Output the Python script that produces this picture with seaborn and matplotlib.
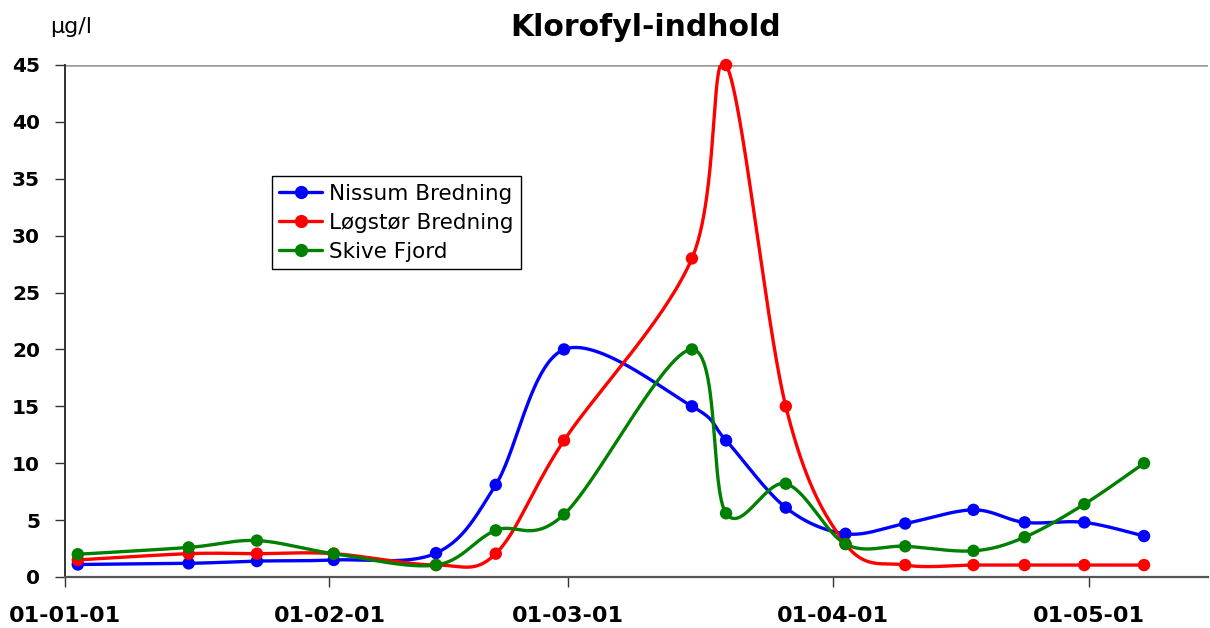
import numpy as np
import pandas as pd
import matplotlib
matplotlib.use("Agg")
import matplotlib.pyplot as plt
import matplotlib.dates as mdates
from matplotlib.lines import Line2D
import seaborn as sns

# ---------------- data ----------------
dates = ["2001-01-02", "2001-01-15", "2001-01-23", "2001-02-01", "2001-02-13",
         "2001-02-20", "2001-02-28", "2001-03-15", "2001-03-19", "2001-03-26",
         "2001-04-02", "2001-04-09", "2001-04-17", "2001-04-23", "2001-04-30",
         "2001-05-07"]
nissum = [1.1, 1.2, 1.4, 1.5, 2.1, 8.1, 20.0, 15.0, 12.0, 6.1, 3.8, 4.7, 5.9, 4.8, 4.8, 3.6]
logstor = [1.5, 2.05, 2.05, 2.05, 1.05, 2.05, 12.0, 28.0, 45.0, 15.0, 2.9, 1.05, 1.05, 1.05, 1.05, 1.05]
skive = [2.0, 2.6, 3.2, 2.05, 1.05, 4.1, 5.5, 20.0, 5.6, 8.2, 2.9, 2.7, 2.3, 3.5, 6.4, 10.0]
series_names = ["Nissum Bredning", "Løgstør Bredning", "Skive Fjord"]
series_colors = ["#0000FF", "#FF0000", "#008000"]
y_ticks = [0, 5, 10, 15, 20, 25, 30, 35, 40, 45]
title = "Klorofyl-indhold"
unit = "µg/l"

sns.set_theme(style="white")
plt.rcParams["font.family"] = ["DejaVu Sans"]
plt.rcParams["text.color"] = "black"
plt.rcParams["xtick.color"] = "black"
plt.rcParams["ytick.color"] = "black"

# points sit in the middle of their day (date axis)
xdates = pd.to_datetime(dates) + pd.Timedelta(hours=12)
xnum = mdates.date2num(xdates)

rows = []
for name, vals in zip(series_names, [nissum, logstor, skive]):
    for d, v in zip(xdates, vals):
        rows.append({"date": d, "value": v, "series": name})
df = pd.DataFrame(rows)


def smooth(x, y, n=60):
    pts = np.column_stack([x, y]).astype(float)
    m = len(pts)
    out = []
    t = np.linspace(0, 1, n)[:, None]
    for i in range(m - 1):
        p0 = pts[max(i - 1, 0)]
        p1 = pts[i]
        p2 = pts[i + 1]
        p3 = pts[min(i + 2, m - 1)]
        c1 = p1 + (p2 - p0) / 6.0
        c2 = p2 - (p3 - p1) / 6.0
        b = ((1 - t) ** 3) * p1 + 3 * ((1 - t) ** 2) * t * c1 + 3 * (1 - t) * t ** 2 * c2 + t ** 3 * p2
        out.append(b if i == 0 else b[1:])
    out = np.vstack(out)
    return out[:, 0], out[:, 1]


fig = plt.figure(figsize=(12.1, 6.28), dpi=100)
ax = fig.add_axes([65 / 1210, 1 - 577 / 628, (1208 - 65) / 1210, (577 - 65) / 628])

for name, col, vals in zip(series_names, series_colors, [nissum, logstor, skive]):
    sx, sy = smooth(xnum, vals)
    sdf = pd.DataFrame({"date": mdates.num2date(sx), "value": sy})
    sns.lineplot(data=sdf, x="date", y="value", ax=ax, color=col, lw=2.4,
                 sort=False, estimator=None, zorder=3)
    sub = df[df["series"] == name]
    sns.scatterplot(data=sub, x="date", y="value", ax=ax, color=col, s=80,
                    edgecolor="none", zorder=4, clip_on=False)

ax.set_xlim(pd.Timestamp("2001-01-01"), pd.Timestamp("2001-05-15"))
ax.set_ylim(0, 45)
ax.set_yticks(y_ticks)
ax.set_yticklabels([str(v) for v in y_ticks], fontsize=14.5, fontweight="bold")
ax.xaxis.set_major_locator(mdates.MonthLocator())
ax.xaxis.set_major_formatter(mdates.DateFormatter("%y-%m-%d"))
for lab in ax.get_xticklabels():
    lab.set_fontsize(16)
    lab.set_fontweight("bold")
ax.tick_params(axis="x", direction="out", length=7, width=1, color="#333333", pad=14, bottom=True)
ax.tick_params(axis="y", direction="out", length=7, width=1, color="#333333", pad=11, left=True)
ax.set_xlabel("")
ax.set_ylabel("")

for s in ["top", "right"]:
    ax.spines[s].set_visible(False)
ax.spines["left"].set_color("#333333")
ax.spines["left"].set_linewidth(1.4)
ax.spines["bottom"].set_color("#555555")
ax.spines["bottom"].set_linewidth(1.6)
ax.axhline(45, color="#999999", lw=1.8, zorder=1)
ax.grid(False)

handles = [Line2D([0], [0], color=c, lw=2.4, marker="o", markersize=8.5) for c in series_colors]
leg = ax.legend(handles, series_names, loc="upper left", bbox_to_anchor=(0.181, 0.783),
                borderaxespad=0, frameon=True, fancybox=False, edgecolor="black",
                fontsize=15.5, handlelength=2.0, handletextpad=0.3, labelspacing=0.42,
                borderpad=0.35)
leg.get_frame().set_linewidth(1.0)
leg.get_frame().set_facecolor("white")
leg.get_frame().set_alpha(1)

fig.text(646 / 1210, 1 - 28 / 628, title, ha="center", va="center",
         fontsize=21.5, fontweight="bold")
fig.text(50 / 1210, 1 - 27 / 628, unit, ha="left", va="center", fontsize=16)

fig.savefig("out.png", dpi=100)
